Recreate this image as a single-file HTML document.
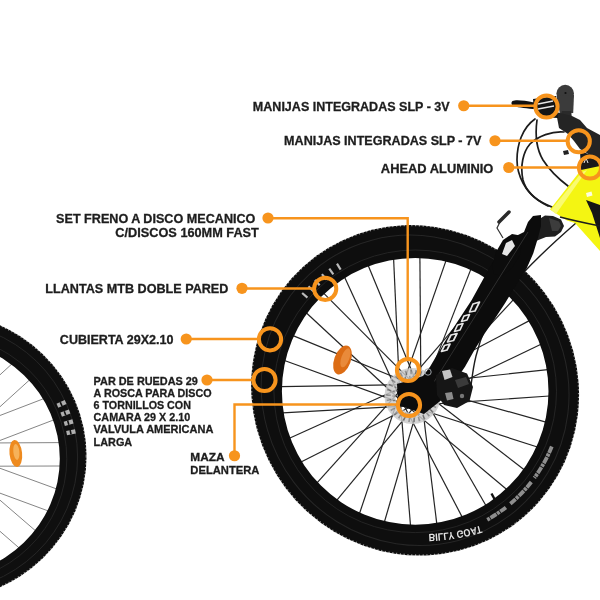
<!DOCTYPE html>
<html lang="es"><head><meta charset="utf-8"><title>Bicicleta</title>
<style>html,body{margin:0;padding:0;background:#fff;}svg{display:block;}</style>
</head><body>
<svg width="600" height="600" viewBox="0 0 600 600">
<defs><filter id="nf" x="0" y="0" width="600" height="600" filterUnits="userSpaceOnUse"><feOffset dx="0" dy="0"/></filter></defs>
<rect width="600" height="600" fill="#ffffff"/>
<g id="rear">
<line x1="-66.3" y1="466.4" x2="60.6" y2="466.0" stroke="#777" stroke-width="0.9"/>
<line x1="-63.0" y1="445.3" x2="56.8" y2="489.0" stroke="#777" stroke-width="0.9"/>
<line x1="-71.0" y1="467.0" x2="48.4" y2="511.0" stroke="#777" stroke-width="0.9"/>
<line x1="-59.8" y1="448.7" x2="35.7" y2="530.9" stroke="#777" stroke-width="0.9"/>
<line x1="-75.5" y1="465.7" x2="19.3" y2="548.1" stroke="#777" stroke-width="0.9"/>
<line x1="-58.1" y1="453.1" x2="-0.3" y2="561.8" stroke="#777" stroke-width="0.9"/>
<line x1="-76.3" y1="444.8" x2="12.0" y2="363.8" stroke="#777" stroke-width="0.9"/>
<line x1="-59.3" y1="460.5" x2="29.8" y2="379.7" stroke="#777" stroke-width="0.9"/>
<line x1="-71.9" y1="443.1" x2="43.9" y2="398.6" stroke="#777" stroke-width="0.9"/>
<line x1="-62.2" y1="464.2" x2="54.0" y2="419.8" stroke="#777" stroke-width="0.9"/>
<line x1="-67.2" y1="443.3" x2="59.7" y2="442.6" stroke="#777" stroke-width="0.9"/>
<ellipse cx="15.8" cy="453.5" rx="6.3" ry="13.5" fill="#EE8A1E" transform="rotate(-6 15.8 453.5)"/>
<ellipse cx="16.5" cy="452" rx="3" ry="8" fill="#F6B25A" transform="rotate(-6 15.8 453.5)"/>
<path d="M-211.6,456.2 A149.1,144.3 0 1,0 86.6,456.2 A149.1,144.3 0 1,0 -211.6,456.2 Z M-184.8,458.8 A122.3,118.3 0 1,0 59.8,458.8 A122.3,118.3 0 1,0 -184.8,458.8 Z" fill="#0f0f0f" fill-rule="evenodd"/>
<ellipse cx="-62.5" cy="456.2" rx="148.79999999999998" ry="144.0" fill="none" stroke="#ffffff" stroke-width="1.6" stroke-dasharray="1.2 2.4" opacity="0.55"/>
<ellipse cx="-62.5" cy="457.0" rx="140.1" ry="135.3" fill="none" stroke="#262626" stroke-width="1"/>
<ellipse cx="-62.5" cy="458.8" rx="129.3" ry="125.3" fill="none" stroke="#242424" stroke-width="1"/>
<g fill="#d6d6d6" opacity="0.8">
<rect x="57.0" y="401.7" width="9" height="4.4" transform="rotate(-24.5 61.5 403.9)"/>
<rect x="60.3" y="401.7" width="1.6" height="4.4" fill="#111" transform="rotate(-24.5 61.5 403.9)"/>
<rect x="60.9" y="410.9" width="9" height="4.4" transform="rotate(-20.2 65.4 413.1)"/>
<rect x="64.2" y="410.9" width="1.6" height="4.4" fill="#111" transform="rotate(-20.2 65.4 413.1)"/>
<rect x="64.1" y="420.4" width="9" height="4.4" transform="rotate(-15.9 68.6 422.6)"/>
<rect x="67.4" y="420.4" width="1.6" height="4.4" fill="#111" transform="rotate(-15.9 68.6 422.6)"/>
<rect x="66.5" y="430.0" width="9" height="4.4" transform="rotate(-11.6 71.0 432.2)"/>
<rect x="69.8" y="430.0" width="1.6" height="4.4" fill="#111" transform="rotate(-11.6 71.0 432.2)"/>
</g>
</g>
<g id="front">
<line x1="414.1" y1="405.4" x2="549.4" y2="396.0" stroke="#242424" stroke-width="1.2"/>
<line x1="416.7" y1="385.9" x2="545.9" y2="422.1" stroke="#242424" stroke-width="1.2"/>
<line x1="409.9" y1="406.0" x2="537.4" y2="447.0" stroke="#242424" stroke-width="1.2"/>
<line x1="419.7" y1="389.0" x2="524.2" y2="469.8" stroke="#242424" stroke-width="1.2"/>
<line x1="405.7" y1="404.9" x2="506.8" y2="489.5" stroke="#242424" stroke-width="1.2"/>
<line x1="421.3" y1="393.0" x2="485.9" y2="505.5" stroke="#242424" stroke-width="1.2"/>
<line x1="402.3" y1="402.3" x2="462.2" y2="517.1" stroke="#242424" stroke-width="1.2"/>
<line x1="421.3" y1="397.3" x2="436.8" y2="523.9" stroke="#242424" stroke-width="1.2"/>
<line x1="400.1" y1="398.6" x2="410.5" y2="525.5" stroke="#242424" stroke-width="1.2"/>
<line x1="419.6" y1="401.2" x2="384.4" y2="522.0" stroke="#242424" stroke-width="1.2"/>
<line x1="399.5" y1="394.4" x2="359.5" y2="513.5" stroke="#242424" stroke-width="1.2"/>
<line x1="416.5" y1="404.2" x2="336.7" y2="500.3" stroke="#242424" stroke-width="1.2"/>
<line x1="400.6" y1="390.2" x2="317.0" y2="482.9" stroke="#242424" stroke-width="1.2"/>
<line x1="412.5" y1="405.8" x2="301.0" y2="462.0" stroke="#242424" stroke-width="1.2"/>
<line x1="403.2" y1="386.8" x2="289.4" y2="438.3" stroke="#242424" stroke-width="1.2"/>
<line x1="408.2" y1="405.8" x2="282.6" y2="412.9" stroke="#242424" stroke-width="1.2"/>
<line x1="406.9" y1="384.6" x2="281.0" y2="386.6" stroke="#242424" stroke-width="1.2"/>
<line x1="404.3" y1="404.1" x2="284.5" y2="360.5" stroke="#242424" stroke-width="1.2"/>
<line x1="411.1" y1="384.0" x2="293.0" y2="335.6" stroke="#242424" stroke-width="1.2"/>
<line x1="401.3" y1="401.0" x2="306.2" y2="312.8" stroke="#242424" stroke-width="1.2"/>
<line x1="415.3" y1="385.1" x2="323.6" y2="293.1" stroke="#242424" stroke-width="1.2"/>
<line x1="399.7" y1="397.0" x2="344.5" y2="277.1" stroke="#242424" stroke-width="1.2"/>
<line x1="418.7" y1="387.7" x2="368.2" y2="265.5" stroke="#242424" stroke-width="1.2"/>
<line x1="399.7" y1="392.7" x2="393.6" y2="258.7" stroke="#242424" stroke-width="1.2"/>
<line x1="420.9" y1="391.4" x2="419.9" y2="257.1" stroke="#242424" stroke-width="1.2"/>
<line x1="401.4" y1="388.8" x2="446.0" y2="260.6" stroke="#242424" stroke-width="1.2"/>
<line x1="421.5" y1="395.6" x2="470.9" y2="269.1" stroke="#242424" stroke-width="1.2"/>
<line x1="404.5" y1="385.8" x2="493.7" y2="282.3" stroke="#242424" stroke-width="1.2"/>
<line x1="420.4" y1="399.8" x2="513.4" y2="299.7" stroke="#242424" stroke-width="1.2"/>
<line x1="408.5" y1="384.2" x2="529.4" y2="320.6" stroke="#242424" stroke-width="1.2"/>
<line x1="417.8" y1="403.2" x2="541.0" y2="344.3" stroke="#242424" stroke-width="1.2"/>
<line x1="412.8" y1="384.2" x2="547.8" y2="369.7" stroke="#242424" stroke-width="1.2"/>
<g opacity="0.82">
<circle cx="412.5" cy="396" r="22.5" fill="none" stroke="#c9c9c9" stroke-width="11"/>
<circle cx="412.5" cy="396" r="24" fill="none" stroke="#7d7d7d" stroke-width="4.5" stroke-dasharray="1.6 3.4"/>
<circle cx="412.5" cy="396" r="19" fill="none" stroke="#8a8a8a" stroke-width="2.5" stroke-dasharray="1.5 3"/>
</g>
<ellipse cx="342.5" cy="360" rx="8.3" ry="15.2" fill="#DC6C14" transform="rotate(20 342.5 360)"/>
<ellipse cx="344.5" cy="357" rx="4" ry="10" fill="#E98A3A" transform="rotate(20 342.5 360)"/>
<line x1="491.5" y1="493.5" x2="495" y2="500" stroke="#111" stroke-width="2.4"/>
<path d="M314.42,257.18 A166.9,162.2 52.9 1,0 515.78,523.42 A166.9,162.2 52.9 1,0 314.42,257.18 Z M281.9,391.3 A133.3,133.3 0 1,0 548.5,391.3 A133.3,133.3 0 1,0 281.9,391.3 Z" fill="#0e0e0e" fill-rule="evenodd"/>
<ellipse cx="415.1" cy="390.3" rx="166.6" ry="161.89999999999998" transform="rotate(52.9 415.1 390.3)" fill="none" stroke="#ffffff" stroke-width="1.6" stroke-dasharray="1.2 2.6" opacity="0.55"/>
<ellipse cx="415.1" cy="390.3" rx="156.9" ry="152.2" transform="rotate(52.9 415.1 390.3)" fill="none" stroke="#262626" stroke-width="1"/>
<circle cx="415.2" cy="391.3" r="141.3" fill="none" stroke="#242424" stroke-width="1"/>
<g fill="#d8d8d8" opacity="0.85">
<rect x="301.3" y="294.2" width="7" height="2.2" transform="rotate(221.0 304.8 295.3)"/>
<rect x="307.4" y="287.7" width="7" height="2.2" transform="rotate(224.5 310.9 288.8)"/>
<rect x="313.8" y="281.5" width="7" height="2.2" transform="rotate(228.0 317.3 282.6)"/>
<rect x="320.6" y="275.7" width="7" height="2.2" transform="rotate(231.5 324.1 276.8)"/>
<rect x="327.8" y="270.4" width="7" height="2.2" transform="rotate(235.0 331.3 271.5)"/>
<rect x="335.3" y="265.5" width="7" height="2.2" transform="rotate(238.5 338.8 266.6)"/>
</g>
<g transform="translate(0,1068) scale(1,-1)"><path id="bgf" d="M428.5,534 Q455,535 481,542.5" fill="none"/><text font-family="'Liberation Sans', sans-serif" font-weight="bold" font-size="10.5" fill="#e4e4e4" filter="url(#nf)" textLength="53" lengthAdjust="spacingAndGlyphs"><textPath href="#bgf">BILLY GOAT</textPath></text></g>
<path d="M505.9,507.4 A147.3,147.3 0 0,1 486.6,520.1" fill="none" stroke="#a4a4a4" stroke-width="3.8" stroke-dasharray="7 0.8 3 0.8" opacity="0.85"/>
<path d="M531.3,482.0 A147.3,147.3 0 0,1 509.9,504.1" fill="none" stroke="#a4a4a4" stroke-width="3.8" stroke-dasharray="7 0.8 3 0.8" opacity="0.85"/>
<path d="M551.8,446.5 A147.3,147.3 0 0,1 534.4,477.9" fill="none" stroke="#a4a4a4" stroke-width="3.8" stroke-dasharray="7 0.8 3 0.8" opacity="0.85"/>
</g>
<g id="cables" fill="none" stroke="#1c1c1c" stroke-width="1.7" stroke-linecap="round">
<path d="M535,119 C522,128 517,145 517,160 C517,176 526,192 538,200 C552,209 570,213 588,218"/>
<path d="M537,120 C535,135 537,150 543,160 C550,171 560,180 568,186"/>
<path d="M564,132 C552,131 538,136 530,144 C523,152 520,166 523,180 C526,192 536,200 548,206"/>
<path d="M576,223 C545,250 515,280 500,300 C488,318 480,340 476,356 C473,368 472,378 471,386" stroke-width="1.4"/>
</g>
<g id="bike">
<polygon points="581,170 600,160 600,251 575,223 567,220.5 550,209.5" fill="#F4F512"/>
<polygon points="582,172 587,170 556,214 551,210" fill="#FAFB70"/>
<polygon points="586,200 600,205 600,238 592,213" fill="#151515"/>
<path d="M560,217 C575,221 590,224 600,226" fill="none" stroke="#1c1c1c" stroke-width="1.5"/>
<path d="M533,223 L545,215.5 L553,216 L561,219.5 L564,226 L561,232 L555,236.5 L546,237 L536,241 L533,228 Z" fill="#1f1f1f"/>
<path d="M549,218 L559,221.5 L561,226 L558,231 L552,231 Z" fill="#3c3c3c"/>
<polygon points="528,222 533,216 541,215 541,226 538.3,236.7 533.3,253.3 526.7,268.3 515,286.7 505,303.3 494,320 485,333 475,349 465,366.7 445,396 411,394 415,386.7 430,366.7 450,333 471.7,300 490,266.7 508,240 524,232" fill="#0c0c0c"/>
<path d="M523,236 L512,234 L503,240 L496,252 L492,266 L494,274 L502,276 L512,268 L520,255 Z" fill="#0c0c0c"/>
<path d="M506,243 L512,240 L515,246 L507,256 L502,254 Z" fill="#ffffff" opacity="0.9"/>
<g fill="none" stroke="#e6e6e6" stroke-width="1.7" stroke-linejoin="round">
<path d="M479.5,302 L473,304 L469.5,312 L475,311 Z"/>
<path d="M469.5,314.5 L464,316 L461.5,321.5 L467,320 Z"/>
<path d="M463,323.5 L457.5,325 L454.5,331.5 L460,330 Z"/>
<path d="M457,333.5 L451,335 L447.5,342 L453.5,340.5 Z"/>
<path d="M450,344 L444.5,345.5 L441.5,351.5 L447,350 Z"/>
</g>
<line x1="528" y1="232" x2="432" y2="385" stroke="#2e2e2e" stroke-width="1"/>
<polygon points="397,384 430,374 444,398 424,414 398,405" fill="#0c0c0c"/>
<path d="M436,375 L452,368 L467,373.5 L473,387 L469.5,401 L457,408 L444,405 L437,395 Z" fill="#161616"/>
<path d="M442,371 L450,369.5 L452.5,377 L444.5,380 Z" fill="#c4c4c4"/>
<path d="M445,393 L452,392 L453.5,399 L447,400.5 Z" fill="#8c8c8c"/>
<path d="M455,380 L466,377 L469,384 L458,388 Z" fill="#3a3a3a"/>
<circle cx="462" cy="396" r="2.2" fill="#777"/>
<path d="M586,193 L591.5,191.5 L592.5,195.5 L587,197 Z" fill="#fdfde0"/>
<circle cx="428" cy="372" r="3.2" fill="none" stroke="#9aa0a6" stroke-width="1"/>
<line x1="499" y1="222" x2="509" y2="212" stroke="#2a2a2a" stroke-width="3.5" stroke-linecap="round"/>
<path d="M500,222 L497,228 L503,238" fill="none" stroke="#333" stroke-width="1.2"/>
<circle cx="565.2" cy="93.6" r="8.8" fill="#3b3b3b"/>
<polygon points="556.5,96 574,95 573.2,113 560,114" fill="#3b3b3b"/>
<polygon points="562,111 571,111 572,118 560,117" fill="#2a2a2a"/>
<circle cx="565.5" cy="93" r="1.1" fill="#111"/>
<polygon points="556,112 572,116 580,120 587,128 600,135 600,160 590,155 580,149 574,141 568,134 559,128" fill="#242424"/>
<polygon points="580,151 600,158 600,166 581,170" fill="#1a1a1a"/>
<path d="M584,163 L586,158 L588,163" fill="none" stroke="#eee" stroke-width="1"/>
<path d="M512.5,101 C516,99.5 524,100.5 534,102.5 L538,108 L533,109 C524,108 516,107 513,106 C511,104.5 511,102 512.5,101 Z" fill="#111"/>
<polygon points="533,99 556,96 558,118 540,117 534,110" fill="#151515"/>
<path d="M538,104 L553,101 M538,109 L554,106" stroke="#e8e8e8" stroke-width="1.3"/>
<path d="M563,151 L568,150 L569,154 L564,155 Z" fill="#222"/>
</g>
<g id="ann">
<polyline points="463.75,105.75 534,105.75" fill="none" stroke="#F7941D" stroke-width="2.4"/>
<circle cx="463.75" cy="105.75" r="5.6" fill="#F7941D"/>
<circle cx="546.5" cy="106.5" r="11.1" fill="none" stroke="#F7941D" stroke-width="4"/>
<polyline points="495,140.75 567,140.75" fill="none" stroke="#F7941D" stroke-width="2.4"/>
<circle cx="495" cy="140.75" r="5.6" fill="#F7941D"/>
<circle cx="578.75" cy="141.25" r="11.1" fill="none" stroke="#F7941D" stroke-width="4"/>
<polyline points="508.75,167.5 579,167.5" fill="none" stroke="#F7941D" stroke-width="2.4"/>
<circle cx="508.75" cy="167.5" r="5.6" fill="#F7941D"/>
<circle cx="590" cy="167.5" r="11.1" fill="none" stroke="#F7941D" stroke-width="4"/>
<polyline points="268,218.3 407.7,218.3 407.7,358" fill="none" stroke="#F7941D" stroke-width="2.4"/>
<circle cx="268" cy="218" r="5.6" fill="#F7941D"/>
<circle cx="408" cy="370" r="11.1" fill="none" stroke="#F7941D" stroke-width="4"/>
<polyline points="242,288.5 314,288.5" fill="none" stroke="#F7941D" stroke-width="2.4"/>
<circle cx="242" cy="288.3" r="5.6" fill="#F7941D"/>
<circle cx="325.2" cy="288.8" r="11.1" fill="none" stroke="#F7941D" stroke-width="4"/>
<polyline points="186.25,339 258,339" fill="none" stroke="#F7941D" stroke-width="2.4"/>
<circle cx="186.25" cy="339" r="5.6" fill="#F7941D"/>
<circle cx="270" cy="339.3" r="11.1" fill="none" stroke="#F7941D" stroke-width="4"/>
<polyline points="207,380 253,380" fill="none" stroke="#F7941D" stroke-width="2.4"/>
<circle cx="207" cy="380" r="5.6" fill="#F7941D"/>
<circle cx="264.5" cy="380" r="11.1" fill="none" stroke="#F7941D" stroke-width="4"/>
<polyline points="234.5,455 234.5,404.5 397,404.5" fill="none" stroke="#F7941D" stroke-width="2.4"/>
<circle cx="234.5" cy="455.75" r="5.6" fill="#F7941D"/>
<circle cx="409" cy="405" r="11.1" fill="none" stroke="#F7941D" stroke-width="4"/>
</g>
<g id="txt" font-family="'Liberation Sans', sans-serif" font-weight="bold" fill="#1d1d1d" stroke="#1d1d1d" stroke-width="0.3" filter="url(#nf)">
<text x="252.85" y="110.5" font-size="12.7" textLength="196.80" lengthAdjust="spacingAndGlyphs">MANIJAS INTEGRADAS SLP - 3V</text>
<text x="284.10" y="145" font-size="12.7" textLength="197.30" lengthAdjust="spacingAndGlyphs">MANIJAS INTEGRADAS SLP - 7V</text>
<text x="380.85" y="172.5" font-size="12.7" textLength="112.55" lengthAdjust="spacingAndGlyphs">AHEAD ALUMINIO</text>
<text x="56.10" y="222.5" font-size="12.7" textLength="199.30" lengthAdjust="spacingAndGlyphs">SET FRENO A DISCO MECANICO</text>
<text x="115.35" y="236.75" font-size="12.7" textLength="143.55" lengthAdjust="spacingAndGlyphs">C/DISCOS 160MM FAST</text>
<text x="45.35" y="292.5" font-size="12.7" textLength="183.05" lengthAdjust="spacingAndGlyphs">LLANTAS MTB DOBLE PARED</text>
<text x="59.85" y="344.25" font-size="12.7" textLength="113.55" lengthAdjust="spacingAndGlyphs">CUBIERTA 29X2.10</text>
<text x="93.60" y="385" font-size="11" textLength="104.30" lengthAdjust="spacingAndGlyphs">PAR DE RUEDAS 29</text>
<text x="93.60" y="397" font-size="11" textLength="118.05" lengthAdjust="spacingAndGlyphs">A ROSCA PARA DISCO</text>
<text x="93.60" y="409" font-size="11" textLength="97.30" lengthAdjust="spacingAndGlyphs">6 TORNILLOS CON</text>
<text x="93.60" y="421.25" font-size="11" textLength="96.55" lengthAdjust="spacingAndGlyphs">CAMARA 29 X 2.10</text>
<text x="93.60" y="433.25" font-size="11" textLength="119.80" lengthAdjust="spacingAndGlyphs">VALVULA AMERICANA</text>
<text x="93.60" y="445.5" font-size="11" textLength="38.55" lengthAdjust="spacingAndGlyphs">LARGA</text>
<text x="190.35" y="461.25" font-size="11" textLength="34.30" lengthAdjust="spacingAndGlyphs">MAZA</text>
<text x="190.35" y="473.75" font-size="11" textLength="69.05" lengthAdjust="spacingAndGlyphs">DELANTERA</text>
</g>
</svg>
</body></html>
